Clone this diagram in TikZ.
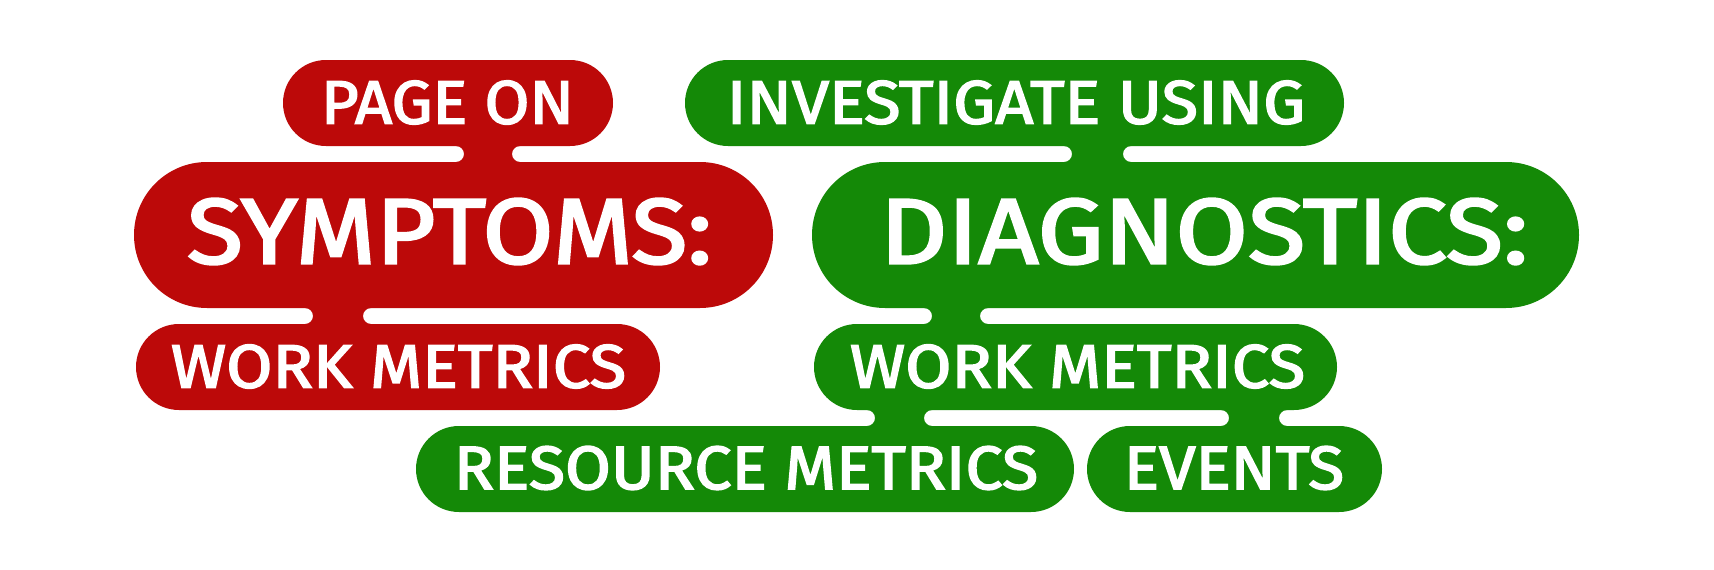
\documentclass[tikz,border=0pt]{standalone}
\usepackage{fontspec}
\setmainfont{Fira Sans}
\newfontfamily\pillfont{Fira Sans}[FakeBold=2.5]
\usepackage{graphicx}
\definecolor{rd}{RGB}{188,9,9}
\definecolor{gn}{RGB}{20,137,7}
\newcommand\neckfill[5]{%
 \fill[#5] ({#1-8},{#3-1}) -- ({#1-8},#3) .. controls ({#1-3.6},#3) and (#1,{#3+3.6}) .. (#1,{(#3+#4)/2})
   .. controls (#1,{#4-3.6}) and ({#1-3.6},#4) .. ({#1-8},#4) -- ({#1-8},{#4+1}) -- ({#2+8},{#4+1}) -- ({#2+8},#4)
   .. controls ({#2+3.6},#4) and (#2,{#4-3.6}) .. (#2,{(#3+#4)/2})
   .. controls (#2,{#3+3.6}) and ({#2+3.6},#3) .. ({#2+8},#3) -- ({#2+8},{#3-1}) -- cycle;}
\begin{document}
\begin{tikzpicture}[x=1pt,y=-1pt,
  pill/.style={inner sep=0pt, minimum height=86pt, rounded corners=43pt},
  bigpill/.style={inner sep=0pt, minimum height=146pt, rounded corners=73pt},
  lbl/.style={inner sep=0pt, text=white, font=\pillfont}]
\useasboundingbox[fill=white] (0,0) rectangle (1714,570);
% pills
\node[pill, fill=rd, minimum width=330pt] (page) at (448,103) {};
\node[pill, fill=gn, minimum width=659pt] (invest) at (1014.5,103) {};
\node[bigpill, fill=rd, minimum width=639pt] (symp) at (453.5,235) {};
\node[bigpill, fill=gn, minimum width=767pt] (diag) at (1195.5,235) {};
\node[pill, fill=rd, minimum width=524pt] (workr) at (398,367) {};
\node[pill, fill=gn, minimum width=523pt] (workg) at (1075.5,367) {};
\node[pill, fill=gn, minimum width=658pt] (res) at (745,469) {};
\node[pill, fill=gn, minimum width=295pt] (events) at (1234.5,469) {};
% necks
\neckfill{464}{512}{146}{162}{rd}
\neckfill{313}{363}{308}{324}{rd}
\neckfill{1072}{1123}{146}{162}{gn}
\neckfill{932}{980}{308}{324}{gn}
\neckfill{875}{924}{410}{426}{gn}
\neckfill{1229}{1279}{410}{426}{gn}
% labels
\node[lbl] (t-page) at (447.5,102.5) {\resizebox{253pt}{43pt}{PAGE ON}};
\node[lbl] (t-invest) at (1016,102.5) {\resizebox{578pt}{43pt}{INVESTIGATE USING}};
\node[lbl] (t-symp) at (449.5,231.5) {\resizebox{525pt}{65pt}{SYMPTOMS:}};
\node[lbl] (t-diag) at (1204,231.5) {\resizebox{648pt}{65pt}{DIAGNOSTICS:}};
\node[lbl] (t-workr) at (398.5,366.5) {\resizebox{455pt}{43pt}{WORK METRICS}};
\node[lbl] (t-workg) at (1077.5,366.5) {\resizebox{455pt}{43pt}{WORK METRICS}};
\node[lbl] (t-res) at (746,468) {\resizebox{584pt}{43pt}{RESOURCE METRICS}};
\node[lbl] (t-events) at (1234,468) {\resizebox{220pt}{43pt}{EVENTS}};
\end{tikzpicture}
\end{document}
